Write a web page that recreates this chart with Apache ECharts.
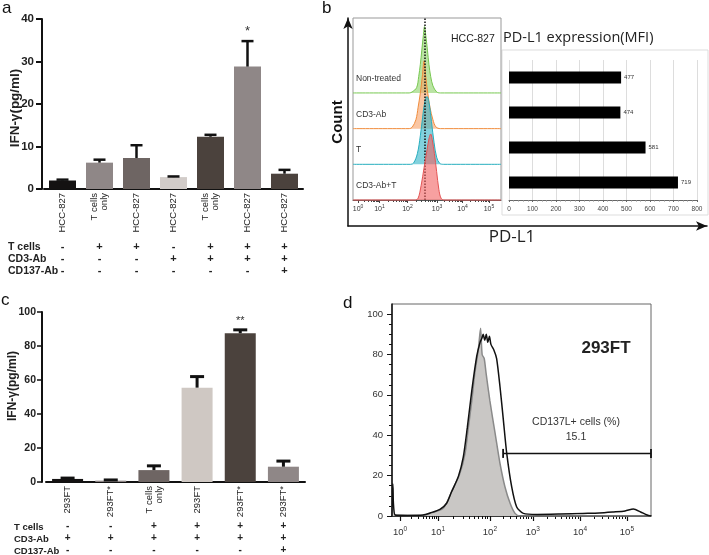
<!DOCTYPE html>
<html><head><meta charset="utf-8">
<script src="https://cdn.jsdelivr.net/npm/echarts@6/dist/echarts.min.js"></script>
<style>html,body{margin:0;padding:0;background:#fff}#c{width:709px;height:555px}</style>
</head><body><div id="c"></div>
<script>
// ---------- Panel a ----------
const aCategories = ['HCC-827','T cells\nonly','HCC-827','HCC-827','T cells\nonly','HCC-827','HCC-827'];
const aMeans = [2.0, 6.2, 7.3, 2.8, 12.3, 28.8, 3.6];
const aUpper = [2.2, 6.9, 10.3, 2.95, 12.75, 34.8, 4.5];
const aSig = ['', '', '', '', '', '*', ''];
const aTcells = ['-','+','+','-','+','+','+'];
const aCD3    = ['-','-','-','+','+','+','+'];
const aCD137  = ['-','-','-','-','-','-','+'];
const aYTicks = [0, 10, 20, 30, 40];
// ---------- Panel c ----------
const cCategories = ['293FT','293FT*','T cells\nonly','293FT','293FT*','293FT*'];
const cMeans = [1.8, 0.8, 7.0, 55.5, 87.5, 9.0];
const cUpper = [2.3, 1.2, 9.5, 62, 89.5, 12.3];
const cSig = ['', '', '', '', '**', ''];
const cTcells = ['-','-','+','+','+','+'];
const cCD3    = ['+','+','+','+','+','+'];
const cCD137  = ['-','-','-','-','-','+'];
const cYTicks = [0, 20, 40, 60, 80, 100];
const rowNames = ['T cells','CD3-Ab','CD137-Ab'];
// ---------- Panel b ----------
const bRowLabels = ['Non-treated','CD3-Ab','T','CD3-Ab+T'];
const bMFI = [477, 474, 581, 719];
const bMFITicks = [0,100,200,300,400,500,600,700,800];
const bDecadeChannels = [34, 179, 368, 568, 740, 919];
const decadeExponents = ['0','1','2','3','4','5'];
const bRefChannel = 486;
const bHistGreen  = [[0,0],[380,0],[400,0.03],[430,0.15],[444,0.46],[455,0.8],[465,1.2],[475,1.6],[483,1.86],[492,1.6],[503,1.2],[513,0.8],[525,0.46],[540,0.2],[565,0.03],[590,0],[1000,0]];
const bHistOrange = [[0,0],[380,0],[400,0.04],[425,0.25],[440,0.6],[455,1.0],[468,1.45],[480,1.9],[492,1.45],[505,1.0],[520,0.6],[540,0.25],[560,0.05],[590,0],[1000,0]];
const bHistTeal   = [[0,0],[390,0],[410,0.04],[435,0.3],[455,0.8],[470,1.3],[485,1.75],[500,1.9],[515,1.7],[530,1.2],[548,0.6],[565,0.2],[585,0.03],[610,0],[1000,0]];
const bHistRed    = [[0,0],[420,0],[440,0.05],[460,0.4],[480,0.9],[500,1.4],[515,1.75],[525,1.85],[535,1.7],[550,1.3],[565,0.8],[580,0.3],[595,0.05],[615,0],[1000,0]];
const bRowBase = [3, 2, 1, 0];
// ---------- Panel d ----------
const dDecadeChannels = [31, 178, 378, 544, 726, 907];
const dYTicks = [0, 20, 40, 60, 80, 100];
const dIsotype = [[0,0],[3,14],[12,0.5],[120,0.3],[147,1.3],[198,3.8],[230,12],[262,21],[282,31],[295,44],[308,57],[320,71],[333,82],[342,93],[348,80],[356,78],[363,71],[378,57],[398,41],[417,26],[436,14.5],[456,6.3],[475,1.3],[494,0],[1000,0]];
const dStained = [[0,0],[3,16],[12,0.5],[60,0.3],[120,0.5],[147,1.5],[185,3.3],[211,6.3],[230,12],[256,19.5],[275,29],[291,44],[308,62],[327,79],[340,86],[347,88],[352,90],[358,87],[364,90],[370,86],[376,89],[382,85],[394,82],[404,78],[417,64],[430,47.5],[443,31],[462,14.5],[481,4.6],[507,1.3],[560,0.8],[650,1],[737,1.3],[800,1.5],[855,2],[900,2.5],[932,3.5],[960,2],[985,0.5],[1000,0]];
const dGateFrom = 429, dGateTo = 1000, dGateLevel = 31;
const dGateText = 'CD137L+ cells (%)';
const dGatePct = '15.1';

const F = '"Liberation Sans", Arial, sans-serif';
const FN = '"Liberation Sans Narrow", "Liberation Sans", Arial, sans-serif';
const FO = '"Open Sans", "Noto Sans", sans-serif';
const aColors = ['#141212','#8f8787','#6e6563','#d2ccc9','#4b423d','#8f8787','#4b423d'];
const cColors = ['#141212','#8f8787','#6e6563','#cfc8c3','#4b423d','#8f8787'];

function minorTicks(major){
  const out = [];
  for (let n = 0; n < major.length - 1; n++) {
    for (let k = 2; k <= 9; k++) out.push(major[n] + Math.log10(k) * (major[n+1] - major[n]));
  }
  return out;
}
function nearestIdx(arr, v){ let b=0; for(let i=1;i<arr.length;i++) if(Math.abs(arr[i]-v)<Math.abs(arr[b]-v)) b=i; return b; }
function errRender(capHalf, lw, sig, sigSize){
  return function(params, api){
    const i = api.value(0);
    const p0 = api.coord([i, api.value(1)]);
    const p1 = api.coord([i, api.value(2)]);
    const ch = [
      {type:'line', shape:{x1:p0[0],y1:p0[1],x2:p1[0],y2:p1[1]}, style:{stroke:'#111', lineWidth:lw}},
      {type:'line', shape:{x1:p1[0]-capHalf,y1:p1[1],x2:p1[0]+capHalf,y2:p1[1]}, style:{stroke:'#111', lineWidth:lw}}
    ];
    const s = sig[params.dataIndex];
    if (s) ch.push({type:'text', style:{text:s, x:p1[0], y:p1[1]-3, align:'center', verticalAlign:'bottom', fontSize:sigSize, fontFamily:F, fill:'#333'}});
    return {type:'group', children:ch};
  };
}
function tableAxis(grid, cats, offset, arr, size){
  return {gridIndex:grid, type:'category', data:cats, position:'bottom', offset:offset,
    axisLine:{show:false}, axisTick:{show:false}, splitLine:{show:false},
    axisLabel:{interval:0, margin:0, verticalAlign:'middle', fontSize:size, fontWeight:'bold', color:'#222', fontFamily:F,
      formatter:(v,i)=>arr[i]}};
}
function decadeLabel(chans, size, ssize, margin){
  return {customValues:chans, margin:margin, color:'#333',
    formatter:(v)=>'{b|10}{s|'+decadeExponents[nearestIdx(chans,v)]+'}',
    rich:{b:{fontSize:size, fontFamily:F, color:'#333'}, s:{fontSize:ssize, fontFamily:F, color:'#333', padding:[0,0,size*0.6,0]}}};
}

const chart = echarts.init(document.getElementById('c'), null, {renderer:'canvas'});
const option = {
  animation:false,
  backgroundColor:'#fff',
  textStyle:{fontFamily:F},
  grid:[
    {left:44, top:19, width:259, height:170},
    {left:46, top:312, width:259, height:171},
    {left:353, top:18, width:148, height:182, show:true, borderColor:'#999', borderWidth:1},
    {left:509, top:60, width:188, height:140},
    {left:348, top:18, width:359, height:208},
    {left:392, top:304, width:259, height:212, show:true, borderColor:'#666', borderWidth:1}
  ],
  xAxis:[
    {gridIndex:0, type:'category', data:aCategories, position:'bottom',
      axisLine:{lineStyle:{color:'#111', width:2}},
      axisTick:{alignWithLabel:true, length:4, lineStyle:{color:'#111', width:1.5}},
      axisLabel:{rotate:90, interval:0, fontSize:9.5, color:'#222', margin:4, lineHeight:10, fontFamily:F}},
    tableAxis(0, aCategories, 58, aTcells, 11),
    tableAxis(0, aCategories, 70, aCD3, 11),
    tableAxis(0, aCategories, 82, aCD137, 11),
    {gridIndex:1, type:'category', data:cCategories, position:'bottom',
      axisLine:{lineStyle:{color:'#111', width:2}},
      axisTick:{alignWithLabel:true, length:4, lineStyle:{color:'#111', width:1.5}},
      axisLabel:{rotate:90, interval:0, fontSize:9.5, color:'#222', margin:4, lineHeight:10, fontFamily:F}},
    tableAxis(1, cCategories, 44, cTcells, 10),
    tableAxis(1, cCategories, 56, cCD3, 10),
    tableAxis(1, cCategories, 68, cCD137, 10),
    {gridIndex:2, type:'value', min:0, max:1000, position:'bottom',
      axisLine:{lineStyle:{color:'#555', width:1}},
      axisTick:{customValues:bDecadeChannels, length:3, lineStyle:{color:'#444'}},
      axisLabel:decadeLabel(bDecadeChannels, 7, 5, 4), splitLine:{show:false}},
    {gridIndex:2, type:'value', min:0, max:1000, position:'bottom',
      axisLine:{show:false}, axisTick:{customValues:minorTicks(bDecadeChannels), length:2, lineStyle:{color:'#444'}},
      axisLabel:{show:false}, splitLine:{show:false}},
    {gridIndex:3, type:'value', min:0, max:800, interval:100, position:'bottom',
      axisLine:{show:true, lineStyle:{color:'#666'}},
      axisTick:{show:true, length:2, lineStyle:{color:'#666'}},
      minorTick:{show:true, splitNumber:5, length:1.5, lineStyle:{color:'#888'}},
      axisLabel:{fontSize:6.5, color:'#444', margin:6, fontFamily:FN},
      splitLine:{show:true, lineStyle:{color:'#ddd'}}},
    {gridIndex:4, type:'value', min:0, max:1, position:'bottom',
      axisLine:{show:true, symbol:['none','arrow'], symbolSize:[7,11], lineStyle:{color:'#111', width:1.5}},
      axisTick:{show:false}, axisLabel:{show:false}, splitLine:{show:false}},
    {gridIndex:5, type:'value', min:0, max:1000, position:'bottom',
      axisLine:{lineStyle:{color:'#111', width:1.5}},
      axisTick:{customValues:dDecadeChannels, length:5, lineStyle:{color:'#111', width:1.2}},
      axisLabel:decadeLabel(dDecadeChannels, 9.5, 6.5, 10), splitLine:{show:false}},
    {gridIndex:5, type:'value', min:0, max:1000, position:'bottom',
      axisLine:{show:false}, axisTick:{customValues:minorTicks(dDecadeChannels), length:3, lineStyle:{color:'#111'}},
      axisLabel:{show:false}, splitLine:{show:false}}
  ],
  yAxis:[
    {gridIndex:0, type:'value', min:0, max:40, interval:10, offset:2, position:'left',
      axisLine:{show:true, lineStyle:{color:'#111', width:2}},
      axisTick:{show:true, length:6, lineStyle:{color:'#111', width:2}},
      axisLabel:{customValues:aYTicks, fontWeight:'bold', fontSize:11.5, color:'#222', margin:8, fontFamily:F},
      splitLine:{show:false}},
    {gridIndex:1, type:'value', min:0, max:100, interval:20, offset:4, position:'left',
      axisLine:{show:true, lineStyle:{color:'#111', width:2}},
      axisTick:{show:true, length:5, lineStyle:{color:'#111', width:1.5}},
      axisLabel:{customValues:cYTicks, fontWeight:'bold', fontSize:10.5, color:'#222', margin:6, fontFamily:F},
      splitLine:{show:false}},
    {gridIndex:2, type:'value', min:0, max:5.1, position:'left',
      axisLine:{show:false}, axisTick:{show:false}, splitLine:{show:false},
      axisLabel:{inside:true, customValues:bRowBase.map(b=>b+0.4), margin:3, fontSize:8.5, color:'#333', fontFamily:FN,
        formatter:(v)=>bRowLabels[nearestIdx(bRowBase.map(b=>b+0.4), v)]}},
    {gridIndex:3, type:'category', data:bRowLabels, inverse:true, position:'left',
      axisLine:{show:false}, axisTick:{show:false}, axisLabel:{show:false}, splitLine:{show:false}},
    {gridIndex:4, type:'value', min:0, max:1, position:'left',
      name:'Count', nameLocation:'middle', nameGap:3,
      nameTextStyle:{fontSize:15, fontWeight:'bold', color:'#111', fontFamily:F},
      axisLine:{show:true, symbol:['none','arrow'], symbolSize:[7,11], lineStyle:{color:'#111', width:1.5}},
      axisTick:{show:false}, axisLabel:{show:false}, splitLine:{show:false}},
    {gridIndex:5, type:'value', min:0, max:105, position:'left',
      axisLine:{show:true, lineStyle:{color:'#111', width:1.5}},
      axisTick:{customValues:dYTicks, length:5, lineStyle:{color:'#111'}},
      axisLabel:{customValues:dYTicks, fontSize:9.5, color:'#333', margin:9, fontFamily:F},
      splitLine:{show:false}},
    {gridIndex:5, type:'value', min:0, max:105, position:'left',
      axisLine:{show:false},
      axisTick:{customValues:dYTicks.slice(0,-1).flatMap(t=>[t+5,t+10,t+15]), length:3, lineStyle:{color:'#111'}},
      axisLabel:{show:false}, splitLine:{show:false}}
  ],
  series:[
    {type:'bar', xAxisIndex:0, yAxisIndex:0, barWidth:27,
      data:aMeans.map((v,i)=>({value:v, itemStyle:{color:aColors[i]}}))},
    {type:'custom', xAxisIndex:0, yAxisIndex:0, z:5, encode:{x:0, y:[1,2]},
      renderItem:errRender(6, 2.5, aSig, 13), data:aMeans.map((v,i)=>[i, v, aUpper[i]])},
    {type:'bar', xAxisIndex:4, yAxisIndex:1, barWidth:31,
      data:cMeans.map((v,i)=>({value:v, itemStyle:{color:cColors[i]}}))},
    {type:'custom', xAxisIndex:4, yAxisIndex:1, z:5, encode:{x:0, y:[1,2]},
      renderItem:errRender(7, 3, cSig, 11), data:cMeans.map((v,i)=>[i, v, cUpper[i]])},
    ...[[bHistGreen,'#77c850','rgba(140,210,100,0.85)'],
        [bHistOrange,'#f08c3c','rgba(246,160,100,0.85)'],
        [bHistTeal,'#27aebf','rgba(45,178,198,0.85)'],
        [bHistRed,'#e45555','rgba(242,96,96,0.85)']].map((d, r)=>({
      type:'line', xAxisIndex:8, yAxisIndex:2, symbol:'none', smooth:0.35, clip:false,
      data:d[0].map(p=>[p[0], p[1] + bRowBase[r]]),
      lineStyle:{color:d[1], width:1}, areaStyle:{color:d[2], origin:bRowBase[r]}, z:2+r})),
    {type:'line', xAxisIndex:8, yAxisIndex:2, data:[], z:10,
      markLine:{silent:true, symbol:'none', label:{show:false},
        lineStyle:{type:'dotted', color:'#111', width:1.5}, data:[{xAxis:bRefChannel}]}},
    {type:'bar', xAxisIndex:10, yAxisIndex:3, data:bMFI, barWidth:12, itemStyle:{color:'#000'},
      label:{show:true, position:'right', distance:3, fontSize:6, color:'#333', fontFamily:FN}},
    {type:'line', xAxisIndex:12, yAxisIndex:5, data:dIsotype, symbol:'none', smooth:0.25,
      lineStyle:{color:'#8a8a8a', width:1.5}, areaStyle:{color:'#c9c7c5', opacity:1}, z:2},
    {type:'line', xAxisIndex:12, yAxisIndex:5, data:dStained, symbol:'none', smooth:0.25,
      lineStyle:{color:'#111', width:1.5}, z:3},
    {type:'line', xAxisIndex:12, yAxisIndex:5, data:[[dGateFrom,dGateLevel],[dGateTo,dGateLevel]],
      symbol:'rect', symbolSize:[1.8,9], showSymbol:true, clip:false,
      lineStyle:{color:'#111', width:1.5}, itemStyle:{color:'#111'}, z:4}
  ],
  graphic:[
    {type:'text', x:2, y:0, style:{text:'a', fontSize:17, fontFamily:F, fill:'#111'}},
    {type:'text', x:322, y:0, style:{text:'b', fontSize:17, fontFamily:F, fill:'#111'}},
    {type:'text', x:1, y:292, style:{text:'c', fontSize:17, fontFamily:F, fill:'#111'}},
    {type:'text', x:343, y:295, style:{text:'d', fontSize:17, fontFamily:F, fill:'#111'}},
    {type:'text', x:15, y:108, rotation:Math.PI/2, style:{text:'IFN-γ(pg/ml)', fontSize:13.5, fontWeight:'bold', fontFamily:F, fill:'#222', align:'center', verticalAlign:'middle'}},
    {type:'text', x:13, y:386, rotation:Math.PI/2, style:{text:'IFN-γ(pg/ml)', fontSize:12, fontWeight:'bold', fontFamily:F, fill:'#222', align:'center', verticalAlign:'middle'}},
    ...rowNames.map((t,i)=>({type:'text', x:8, y:247+12*i, style:{text:t, fontSize:10.5, fontWeight:'bold', fontFamily:F, fill:'#222', verticalAlign:'middle'}})),
    ...rowNames.map((t,i)=>({type:'text', x:14, y:527+12*i, style:{text:t, fontSize:9.5, fontWeight:'bold', fontFamily:F, fill:'#222', verticalAlign:'middle'}})),
    {type:'text', x:451, y:39, style:{text:'HCC-827', fontSize:10.5, fontFamily:F, fill:'#222', verticalAlign:'middle'}},
    {type:'text', x:503, y:38, style:{text:'PD-L1 expression(MFI)', fontSize:14.5, fontFamily:FO, fill:'#222', verticalAlign:'middle'}},
    {type:'text', x:512, y:237, style:{text:'PD-L1', fontSize:17, fontFamily:FO, fill:'#222', align:'center', verticalAlign:'middle'}},
    {type:'rect', z:-10, shape:{x:502, y:50, width:206, height:165}, style:{fill:'none', stroke:'#ddd', lineWidth:1}},
    {type:'text', x:606, y:348, style:{text:'293FT', fontSize:17, fontWeight:'bold', fontFamily:F, fill:'#222', align:'center', verticalAlign:'middle'}},
    {type:'text', x:576, y:422, style:{text:dGateText, fontSize:10.5, fontFamily:F, fill:'#333', align:'center', verticalAlign:'middle'}},
    {type:'text', x:576, y:437, style:{text:dGatePct, fontSize:10.5, fontFamily:F, fill:'#333', align:'center', verticalAlign:'middle'}}
  ]
};
chart.setOption(option);
</script>
</body></html>
